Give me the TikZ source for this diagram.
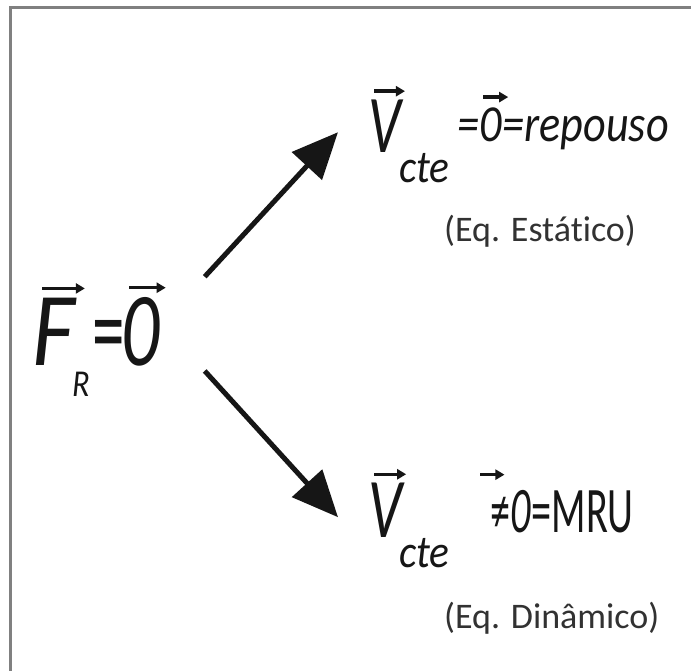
\documentclass[tikz,border=0pt]{standalone}
\usepackage{fontspec}
\setmainfont{Carlito}[Ligatures=NoCommon]
\usepackage{graphicx}
\usetikzlibrary{arrows.meta, calc}

\newcommand\narrow[2]{\scalebox{#1}[1]{#2}}
\definecolor{ink1}{RGB}{22,22,22}
\definecolor{gray1}{RGB}{50,50,50}
\definecolor{frame1}{RGB}{128,128,128}

\begin{document}
\begin{tikzpicture}[x=1pt, y=-1pt,
    sym/.style={anchor=base west, inner sep=0pt, text=ink1},
    note/.style={anchor=base west, inner sep=0pt, text=gray1, font=\fontsize{36}{40}\selectfont},
    vecarrow/.style={-{Triangle[length=9pt,width=10pt]}, line width=3.5pt, draw=ink1, fill=ink1},
    bigarrow/.style={-{Triangle[length=46pt,width=40pt]}, line width=5pt, draw=ink1, fill=ink1},
    frameline/.style={draw=frame1, line width=3pt}
]

        \useasboundingbox (0,0) rectangle (691,670);
        \fill[white] (0,0) rectangle (691,670);
        \begin{scope}
            \clip (0,0) rectangle (691,670);
            \draw[frameline] (10,7) rectangle (720,700);
        \end{scope}

        % resultant force
        \node[sym, font=\fontsize{105}{110}\selectfont\itshape, name=fF] at(32,365) {\narrow{0.88}{F}};
        \node[sym, font=\fontsize{38}{40}\selectfont\itshape, name=fR] at(72,396) {\narrow{0.85}{R}};
        \node[sym, font=\fontsize{105}{110}\selectfont, name=fEq] at(92,365) {\narrow{0.62}{=}};
        \node[sym, font=\fontsize{105}{110}\selectfont\itshape, name=fO] at(121,365) {\narrow{0.72}{0}};

        % rest branch
        \node[sym, font=\fontsize{82}{85}\selectfont\itshape, name=uV] at(368,152) {\narrow{0.7}{V}};
        \node[sym, font=\fontsize{46}{48}\selectfont\itshape, name=uC] at(399,182) {\narrow{0.9}{cte}};
        \node[sym, font=\fontsize{52}{54}\selectfont\itshape, name=uEq] at(457,141) {\narrow{0.85}{=}};
        \node[sym, font=\fontsize{52}{54}\selectfont\itshape, name=uZ] at(uEq.base east) {\narrow{0.85}{0}};
        \node[sym, font=\fontsize{52}{54}\selectfont\itshape, name=uRest] at(uZ.base east) {\narrow{0.85}{=repouso}};
        \node[note, name=uNote] at(444,241) {(Eq. Estático)};

        % uniform motion branch
        \node[sym, font=\fontsize{85}{88}\selectfont\itshape, name=lV] at(368,537) {\narrow{0.7}{V}};
        \node[sym, font=\fontsize{46}{48}\selectfont\itshape, name=lC] at(399,567) {\narrow{0.9}{cte}};
        \node[sym, font=\fontsize{65}{68}\selectfont, name=lNe] at(490,532) {\narrow{0.62}{≠}};
        \node[sym, font=\fontsize{65}{68}\selectfont\itshape, name=lZ] at(lNe.base east) {\narrow{0.62}{0}};
        \node[sym, font=\fontsize{65}{68}\selectfont, name=lMru] at(lZ.base east) {\narrow{0.62}{=MRU}};
        \node[note, name=lNote] at(444,628) {(Eq. Dinâmico)};

        % vector marks
        \draw[vecarrow] ([shift={(10,-9)}]fF.north west) -- ([shift={(10,-9)}]fF.north east);
        \draw[vecarrow] ([shift={(8,-9)}]fO.north west) -- ([shift={(6,-9)}]fO.north east);
        \draw[vecarrow] ([shift={(6,-8)}]uV.north west) -- ([shift={(4,-8)}]uV.north east);
        \draw[vecarrow] ([shift={(4,-10)}]uZ.north west) -- ([shift={(6,-10)}]uZ.north east);
        \draw[vecarrow] ([shift={(6,-8)}]lV.north west) -- ([shift={(4,-8)}]lV.north east);
        \draw[vecarrow] ([shift={(-30,-15)}]lZ.north west) -- ([shift={(-6,-15)}]lZ.north west);

        \draw[bigarrow] ([shift={(45,-20)}]fO.north east) -- ([shift={(-30,-20)}]uV.south west);
        \draw[bigarrow] ([shift={(45,5)}]fO.south east) -- ([shift={(-30,-20)}]lV.south west);
\end{tikzpicture}
\end{document}
